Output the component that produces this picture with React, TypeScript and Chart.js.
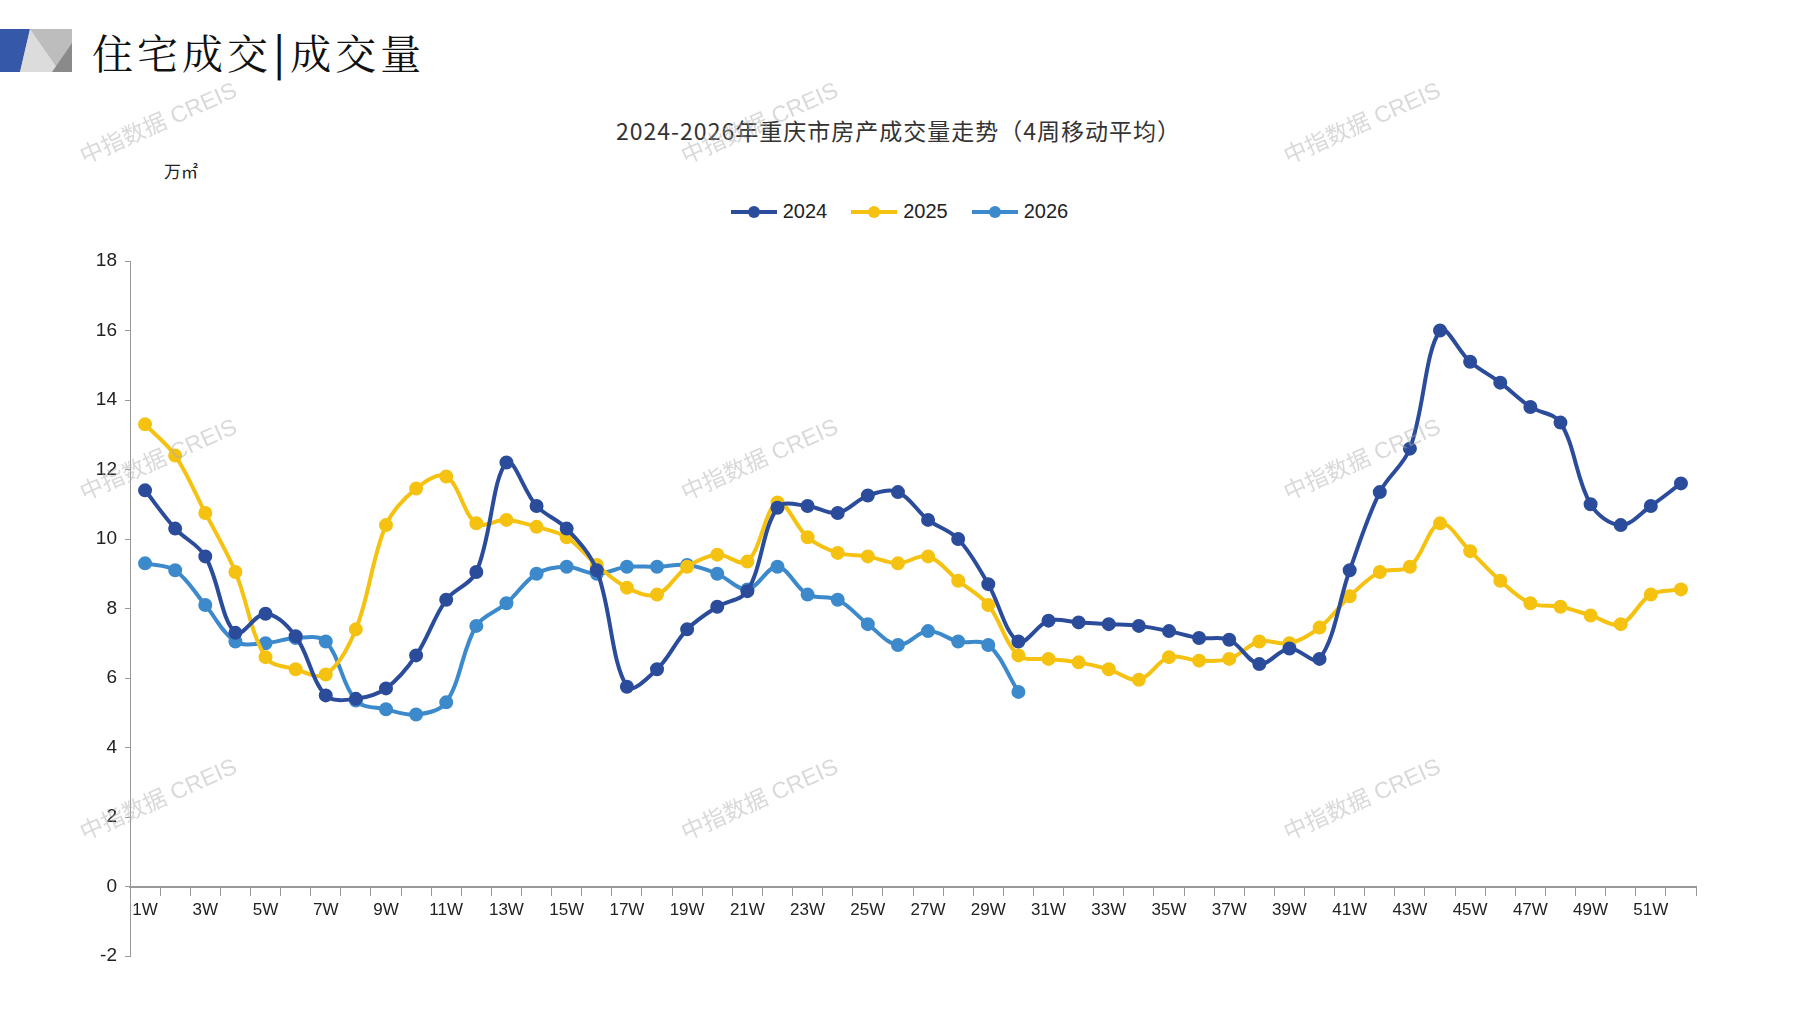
import React, { useEffect, useRef } from "react";
import { Chart, registerables } from "chart.js";
Chart.register(...registerables);

const weeks = Array.from({ length: 52 }, (_, i) => `${i + 1}W`);
const s2024 = [11.4,10.3,9.5,7.3,7.85,7.2,5.5,5.4,5.7,6.65,8.25,9.05,12.2,10.95,10.3,9.1,5.75,6.25,7.4,8.05,8.5,10.9,10.95,10.75,11.25,11.35,10.55,10.0,8.7,7.05,7.65,7.6,7.55,7.5,7.35,7.15,7.1,6.4,6.85,6.55,9.1,11.35,12.6,16.0,15.1,14.5,13.8,13.35,11.0,10.4,10.95,11.6];
const s2025 = [13.3,12.4,10.75,9.05,6.6,6.25,6.1,7.4,10.4,11.45,11.8,10.45,10.55,10.35,10.05,9.25,8.6,8.4,9.2,9.55,9.35,11.05,10.05,9.6,9.5,9.3,9.5,8.8,8.1,6.65,6.55,6.45,6.25,5.95,6.6,6.5,6.55,7.05,7.0,7.45,8.35,9.05,9.2,10.45,9.65,8.8,8.15,8.05,7.8,7.55,8.4,8.55];
const s2026 = [9.3,9.1,8.1,7.05,7.0,7.15,7.05,5.35,5.1,4.95,5.3,7.5,8.15,9.0,9.2,9.0,9.2,9.2,9.25,9.0,8.55,9.2,8.4,8.25,7.55,6.95,7.35,7.05,6.95,5.6];
const seriesNames = ["2024", "2025", "2026"];
const colors = ["#2B4C9B", "#F5C211", "#3C8ACB"];

const S = 1797 / 1560;
const marks = [[138,108],[660,108],[1183,108],[138,400],[660,400],[1183,400],[138,695],[660,695],[1183,695]];

export default function App() {
  const ref = useRef<HTMLCanvasElement>(null);
  useEffect(() => {
    document.body.style.margin = "0";
    const wm = {
      id: "wm",
      afterDraw(c: any) {
        const ctx = c.ctx;
        ctx.save();
        ctx.fillStyle = "rgba(170,170,170,0.45)";
        ctx.font = "23px 'Liberation Sans', 'Noto Sans CJK SC'";
        ctx.textAlign = "center";
        ctx.textBaseline = "middle";
        for (const [x, y] of marks) {
          ctx.save();
          ctx.translate(x * S, y * S);
          ctx.rotate(-0.42);
          ctx.fillText("中指数据 CREIS", 0, 0);
          ctx.restore();
        }
        ctx.restore();
      },
    };
    const data = [s2024, s2025, s2026];
    const chart = new Chart(ref.current!, {
      type: "line",
      data: {
        labels: weeks,
        datasets: data.map((d, i) => ({
          label: seriesNames[i],
          data: d,
          borderColor: colors[i],
          backgroundColor: colors[i],
          borderWidth: 4,
          pointRadius: 5,
          pointHoverRadius: 5,
          tension: 0.35,
        })),
      },
      options: {
        animation: false,
        responsive: false,
        layout: { padding: { top: 261, right: 101, bottom: 54, left: 0 } },
        plugins: { legend: { display: false }, title: { display: false }, tooltip: { enabled: false } },
        scales: {
          x: {
            position: { y: 0 } as any,
            offset: true,
            grid: { display: true, drawOnChartArea: false, offset: true, color: "#999", tickLength: 8 },
            border: { color: "#999", width: 2 },
            ticks: {
              autoSkip: false,
              maxRotation: 0,
              color: "#222",
              font: { family: "'Liberation Sans Narrow', 'Liberation Sans'", size: 17 },
              padding: 6,
              callback: (v: any, i: number) => (i % 2 === 0 ? weeks[i] : ""),
            },
          },
          y: {
            min: -2,
            max: 18,
            afterFit: (s: any) => { s.width = 130; },
            grid: { display: true, drawOnChartArea: false, color: "#999", tickLength: 5 },
            border: { color: "#999" },
            ticks: { stepSize: 2, color: "#222", font: { family: "'Liberation Sans Narrow', 'Liberation Sans'", size: 19 }, padding: 8 },
          },
        },
      },
      plugins: [wm],
    });
    return () => chart.destroy();
  }, []);
  return (
    <div style={{ position: "relative", width: 1797, height: 1010, background: "#fff", overflow: "hidden" }}>
      <svg style={{ position: "absolute", left: 0, top: 29 }} width={72} height={43}>
        <rect x={0} y={0} width={72} height={43} fill="#bdbdbd" />
        <polygon points="0,0 30,0 20,43 0,43" fill="#3558A8" />
        <polygon points="30,0 60,43 20,43" fill="#dcdcdc" />
        <polygon points="72,14 72,43 52,43" fill="#8a8a8a" />
      </svg>
      <div style={{ position: "absolute", left: 92, top: 22, fontSize: 41, fontFamily: "'Noto Serif CJK SC','Noto Sans CJK SC'", color: "#111", letterSpacing: 4, whiteSpace: "nowrap" }}>
        住宅成交<span style={{ fontWeight: 900 }}>|</span>成交量
      </div>
      <div style={{ position: "absolute", left: 0, width: 1797, textAlign: "center", top: 113, fontSize: 23, fontFamily: "'Noto Sans CJK SC'", color: "#333", letterSpacing: 1 }}>
        2024-2026年重庆市房产成交量走势（4周移动平均）
      </div>
      <div style={{ position: "absolute", left: 164, top: 158, fontSize: 17, fontFamily: "'Noto Sans CJK SC'", color: "#222" }}>万㎡</div>
      <div style={{ position: "absolute", left: 0, width: 1797, top: 200, display: "flex", justifyContent: "center", gap: 22, fontFamily: "'Liberation Sans Narrow','Liberation Sans'", fontSize: 20, color: "#222" }}>
        {seriesNames.map((n, i) => (
          <div key={n} style={{ display: "flex", alignItems: "center", gap: 4 }}>
            <svg width={50} height={16}>
              <line x1={2} y1={8} x2={48} y2={8} stroke={colors[i]} strokeWidth={4} />
              <circle cx={25} cy={8} r={6} fill={colors[i]} />
            </svg>
            <span>{n}</span>
          </div>
        ))}
      </div>
      <canvas ref={ref} width={1797} height={1010} style={{ position: "absolute", left: 0, top: 0 }} />
    </div>
  );
}
